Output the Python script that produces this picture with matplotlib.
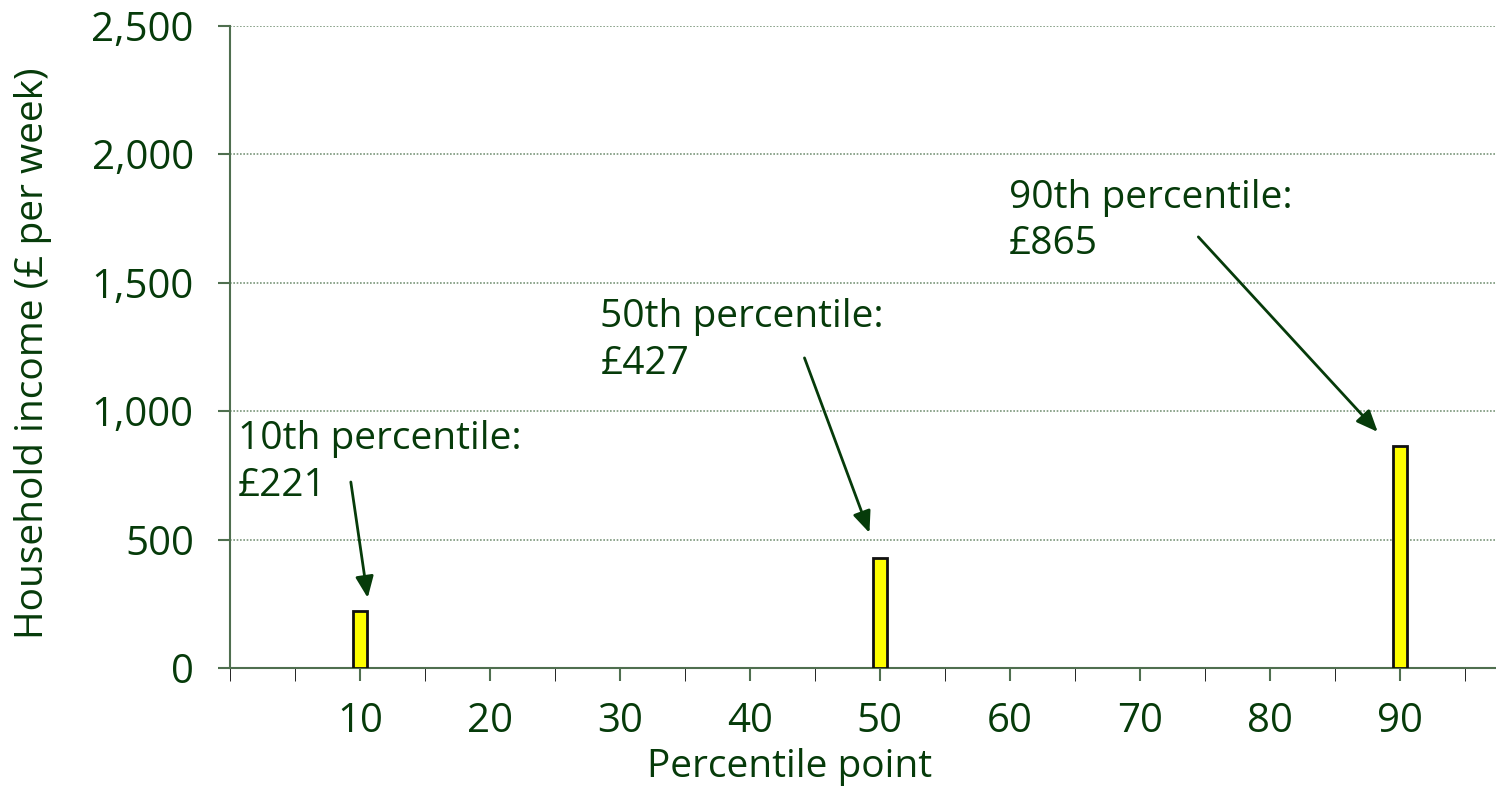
import matplotlib.pyplot as plt

# percentile points and weekly household income at each
percentiles = [10, 50, 90]
income = [221, 427, 865]
labels = ["10th percentile:\n£221", "50th percentile:\n£427", "90th percentile:\n£865"]

# where each label sits and where its arrow starts / ends
label_pos = [(0.6, 965), (28.5, 1440), (59.9, 1905)]
arrow_from = [(9.3, 724), (44.2, 1207), (74.5, 1678)]
arrow_to = [(10.6, 273), (49.2, 526), (88.3, 919)]

green = '#063b0a'
axis_col = '#4f6f4f'

plt.rcParams['font.family'] = ['Open Sans', 'DejaVu Sans']

fig = plt.figure(figsize=(14.96, 7.91), dpi=100)
ax = fig.add_axes([0.1537, 0.1555, 0.8463, 0.812])

ax.bar(percentiles, income, width=1.05, color='#ffff00', edgecolor='#111111',
       linewidth=2, zorder=3)

for txt, (tx, ty), (ax0, ay0), (ax1, ay1) in zip(labels, label_pos, arrow_from, arrow_to):
    ax.text(tx, ty, txt, fontsize=28, color=green, va='top', ha='left',
            linespacing=1.3)
    ax.annotate('', xy=(ax1, ay1), xytext=(ax0, ay0),
                arrowprops=dict(arrowstyle='-|>,head_length=1.3,head_width=0.55',
                                color=green, lw=2, shrinkA=0, shrinkB=0))

ax.set_xlim(0, 97.4)
ax.set_ylim(0, 2500)
ax.set_xticks(range(10, 100, 10))
ax.set_xticks(range(0, 100, 5), minor=True)
ax.set_yticks(range(0, 2501, 500))
ax.set_yticklabels([f'{v:,}' for v in range(0, 2501, 500)])

ax.tick_params(axis='both', colors=axis_col, labelcolor=green, labelsize=29,
               direction='out', width=1.5)
ax.tick_params(axis='x', which='major', length=9, pad=15)
ax.tick_params(axis='x', which='minor', length=9)
ax.tick_params(axis='y', length=9, pad=17)

ax.yaxis.grid(True, linestyle=(0, (1, 1)), color='#7a967a', linewidth=1.2)
ax.set_axisbelow(True)

for side in ['top', 'right']:
    ax.spines[side].set_visible(False)
for side in ['left', 'bottom']:
    ax.spines[side].set_color(axis_col)
    ax.spines[side].set_linewidth(1.5)

ax.set_xlabel('Percentile point', fontsize=28, color=green, va='center')
ax.xaxis.set_label_coords(0.442, -0.154)
ax.set_ylabel('Household income (£ per week)', fontsize=28, color=green,
              va='center')
ax.yaxis.set_label_coords(-0.1556, 0.49)

fig.savefig('out.png', dpi=100)
